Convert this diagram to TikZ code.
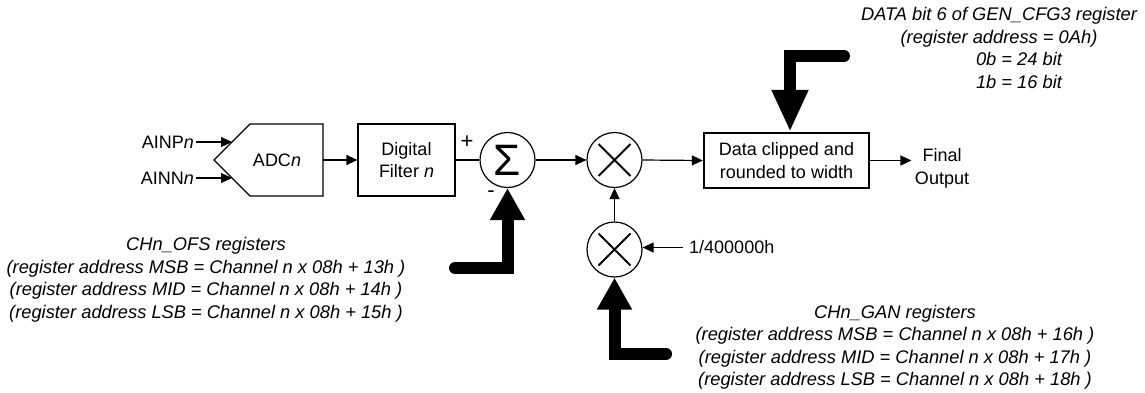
\documentclass[tikz,border=0pt]{standalone}
\usepackage{fontspec}
\setmainfont{Liberation Sans}
\usetikzlibrary{arrows.meta,calc}
\begin{document}
\begin{tikzpicture}[x=1pt,y=-1pt,
  every node/.style={font=\fontsize{18}{22.5}\selectfont},
  thinline/.style={line width=1.2pt},
  sigarrow/.style={thinline,-{Triangle[length=11pt,width=10pt]}},
  bigarrow/.style={line width=12pt,line cap=round,-{Triangle[length=32pt,width=33pt]}},
  blk/.style={draw,line width=1.2pt,minimum width=97pt,minimum height=72pt,align=center,inner sep=0pt},
  ring/.style={draw,circle,line width=1.2pt,minimum size=55pt,inner sep=0pt},
  mult/.style={ring,path picture={
      \draw[line width=1.8pt] ([shift={(-16pt,-16pt)}]path picture bounding box.center) -- ([shift={(16pt,16pt)}]path picture bounding box.center);
      \draw[line width=1.8pt] ([shift={(-16pt,16pt)}]path picture bounding box.center) -- ([shift={(16pt,-16pt)}]path picture bounding box.center);}},
  sign/.style={font=\fontsize{22}{22}\selectfont},
  note/.style={align=center,inner sep=0pt,font=\fontsize{18.3}{22.5}\selectfont\itshape}]
\useasboundingbox (0,0) rectangle (1145,392);

% ADC block
\draw[thinline] (214,160) coordinate (adcW) -- (250,124) -- (323,124) -- (323,196) -- (250,196) -- cycle;
\coordinate (adcE) at (323,160);
\coordinate (adcP) at (232,142);
\coordinate (adcN) at (232,178);
\node (adctxt) at (277,160) {ADC\textit{n}};
\node[anchor=east,inner sep=2pt] (ainp) at (196,142) {AINP\textit{n}};
\node[anchor=east,inner sep=2pt] (ainn) at (196,178) {AINN\textit{n}};
\draw[sigarrow] (ainp.east) -- (adcP);
\draw[sigarrow] (ainn.east) -- (adcN);

% Digital filter
\node[blk] (filt) at (406.5,160) {Digital\\Filter \textit{n}};
\draw[sigarrow] (adcE) -- (filt.west);

% Sum
\node[ring] (sum) at (507.5,160) {\fontsize{44}{44}\selectfont Σ};
\draw[thinline] (filt.east) -- (sum.west);
\node[sign] (plus) at (467,142) {+};
\node[sign] (minus) at (491,194) {-};

% Multiplier 1
\node[mult] (m1) at (614.5,160) {};
\draw[sigarrow] (sum.east) -- (m1.west);

% Clip block
\node[draw,line width=2.4pt,minimum width=165pt,minimum height=55pt,align=center,inner sep=0pt] (clip) at (786.5,160.5) {Data clipped and\\rounded to width};
\draw[sigarrow] (m1.east) -- (clip.west);
\node[align=center] (out) at (942,168.5) {Final\\Output};
\draw[sigarrow] (clip.east) -- (clip.east -| out.west);

% Multiplier 2
\node[mult] (m2) at (614.5,249.5) {};
\draw[sigarrow] (m2.north) -- (m1.south);
\node[anchor=west,inner sep=6pt] (k) at (683,247.5) {1/400000h};
\draw[sigarrow] (k.west) -- (k.west -| m2.east);

% Thick register arrows
\coordinate (topstart) at (844,56);
\coordinate (topcorner) at (790,56);
\draw[bigarrow,-{Triangle[length=42pt,width=34pt]}] (topstart) -- (topcorner) -- (topcorner |- clip.north);
\coordinate (ofsstart) at (455,268);
\draw[bigarrow] (ofsstart) -- (ofsstart -| sum.south) -- (sum.south);
\coordinate (ganstart) at (666,354);
\draw[bigarrow] (ganstart) -- (ganstart -| m2.south) -- (m2.south);

% Notes
\node[note] (topnote) at (999,48) {DATA bit 6 of GEN\_CFG3 register\\(register address = 0Ah)\\\hspace*{40pt}0b = 24 bit\\\hspace*{40pt}1b = 16 bit};
\node[note] (ofsnote) at (206,280) {CHn\_OFS registers\\(register address MSB = Channel n x 08h + 13h )\\(register address MID = Channel n x 08h + 14h )\\(register address LSB = Channel n x 08h + 15h )};
\node[note] (gannote) at (895,347.5) {CHn\_GAN registers\\(register address MSB = Channel n x 08h + 16h )\\(register address MID = Channel n x 08h + 17h )\\(register address LSB = Channel n x 08h + 18h )};
\end{tikzpicture}
\end{document}
